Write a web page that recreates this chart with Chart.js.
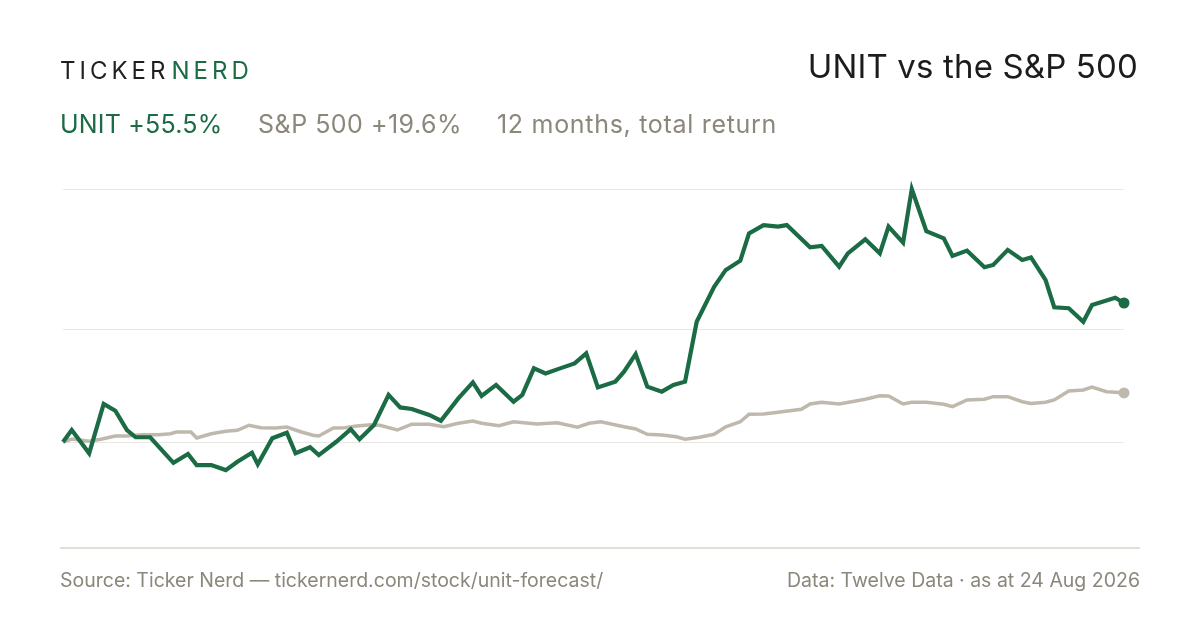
<!DOCTYPE html>
<html>
<head>
<meta charset="utf-8">
<script src="https://cdn.jsdelivr.net/npm/chart.js@4.4.1/dist/chart.umd.min.js"></script>
<style>
    html, body { margin: 0; padding: 0; background: #ffffff; }
    body { width: 1200px; height: 630px; position: relative; overflow: hidden; font-family: "Inter", "Noto Sans", sans-serif; }
    #chartWrap { position: absolute; left: 0; top: 0; width: 1200px; height: 630px; }
    .brand { position: absolute; left: 60px; top: 56px; font-size: 24px; letter-spacing: 4px; color: #1f1f1f; line-height: 30px; }
    .brand span { color: #1b6b45; margin-left: 2px; }
    .title { position: absolute; right: 62px; top: 46px; font-size: 33px; letter-spacing: 0.15px; color: #1c1c1c; line-height: 40px; }
    .sub { position: absolute; top: 108px; font-size: 25px; line-height: 32px; color: #8c877b; white-space: nowrap; }
    .sub.unit { left: 60px; color: #1b6b45; letter-spacing: 0.2px; }
    .sub.spx { left: 258px; letter-spacing: 0.5px; }
    .sub.period { left: 497px; letter-spacing: 0.7px; }
    .rule { position: absolute; left: 60px; top: 547px; width: 1080px; height: 2px; background: #e2dfd6; }
    .foot { position: absolute; top: 568px; font-size: 19.5px; line-height: 24px; color: #8c877b; white-space: nowrap; }
    .foot.left { left: 60px; }
    .foot.right { right: 60px; }
</style>
</head>
<body>
<div id="chartWrap"><canvas id="returnChart"></canvas></div>
<div class="brand">TICKER<span>NERD</span></div>
<div class="title">UNIT vs the S&amp;P 500</div>
<div class="sub unit">UNIT +55.5%</div>
<div class="sub spx">S&amp;P 500 +19.6%</div>
<div class="sub period">12 months, total return</div>
<div class="rule"></div>
<div class="foot left">Source: Ticker Nerd — tickernerd.com/stock/unit-forecast/</div>
<div class="foot right">Data: Twelve Data · as at 24 Aug 2026</div>

<script>
// days since 24 Aug 2025, total return in %
var unitDays = [0, 3, 9, 14, 18, 22, 25, 30, 38, 43, 46, 51, 56, 60, 65, 67, 72, 77, 80, 85, 88, 94, 99, 102, 107, 112, 116, 120, 126, 130,
    136, 141, 144, 149, 155, 158, 162, 166, 171, 176, 180, 184, 190, 193, 197, 201, 206, 210, 214, 218, 224, 228, 233, 236, 241, 246, 249,
    257, 261, 267, 270, 276, 281, 284, 289, 292, 297, 303, 306, 311, 317, 320, 325, 330, 333, 338, 341, 346, 351, 354, 362, 365];
var unitReturn = [0, 4.8, -4.5, 15.2, 12.5, 4.8, 1.9, 1.9, -8.3, -4.8, -9.2, -9.2, -11.2, -7.9, -4.3, -8.9, 1.5, 3.7, -4.5, -2.1, -5.2, 0.1, 5.1, 1.1, 6.8, 18.8, 13.8, 13.2, 10.8, 8.5,
    17.4, 23.8, 18.4, 22.8, 16.1, 18.8, 29.4, 27.4, 29.4, 31.4, 35.4, 21.8, 24.1, 28.1, 35.1, 22.1, 20.1, 22.8, 24.1, 48.0, 62.0, 68.7, 72.4, 83.3, 86.6, 86.0, 86.6,
    77.7, 78.3, 70.0, 75.3, 80.9, 75.3, 86.0, 79.6, 101.0, 84.2, 81.3, 74.3, 76.4, 69.8, 70.7, 76.7, 72.7, 73.7, 64.7, 53.8, 53.4, 48.0, 54.7, 57.6, 55.5];

var spxDays = [0, 3, 9, 13, 18, 22, 27, 33, 37, 39, 44, 46, 51, 56, 60, 64, 68, 73, 77, 82, 86, 88, 93, 97, 101, 106, 109, 115, 120, 126,
    131, 136, 141, 144, 150, 155, 163, 170, 177, 181, 185, 193, 197, 201, 206, 211, 214, 219, 224, 228, 233, 236, 241, 246, 254, 257, 261,
    267, 276, 281, 284, 289, 292, 297, 303, 306, 311, 317, 320, 325, 330, 333, 338, 341, 346, 351, 354, 359, 362, 365];
var spxReturn = [0, 1.2, 0.3, 1.1, 2.4, 2.4, 2.9, 2.9, 3.3, 4.0, 4.0, 1.6, 3.3, 4.3, 4.7, 6.7, 5.7, 5.6, 6.0, 4.0, 2.7, 2.4, 5.6, 5.7, 6.4, 6.9, 6.7, 4.8, 7.1, 7.1,
    6.1, 7.5, 8.4, 7.5, 6.5, 8.1, 7.2, 7.7, 5.9, 7.5, 8.1, 6.1, 5.2, 3.1, 2.8, 2.1, 1.1, 1.9, 3.1, 6.1, 8.1, 11.1, 11.2, 11.9, 13.1, 15.2, 15.9,
    15.2, 17.1, 18.5, 18.4, 15.2, 15.9, 15.9, 15.1, 14.1, 16.8, 17.1, 18.1, 18.1, 16.1, 15.4, 15.9, 16.8, 20.4, 20.8, 21.9, 20.1, 19.9, 19.6];

var yFloor = -42.3;

var green = '#1b6b45';
var sand = '#bfb8ad';

function toPoints(days, values) {
    return days.map(function (d, i) { return { x: d, y: values[i] }; });
}

function lastDot(size) {
    return function (ctx) {
        return ctx.dataIndex === ctx.dataset.data.length - 1 ? size : 0;
    };
}

var unitMax = Math.max.apply(null, unitReturn);
var unitMin = Math.min.apply(null, unitReturn);

var ctx = document.getElementById('returnChart').getContext('2d');
var returnChart = new Chart(ctx, {
    type: 'line',
    data: {
        datasets: [{
            label: 'UNIT',
            data: toPoints(unitDays, unitReturn),
            borderColor: green,
            backgroundColor: green,
            borderWidth: 4.2,
            pointRadius: lastDot(5.5),
            pointHoverRadius: 0,
            pointBorderWidth: 0,
            tension: 0,
            clip: false,
            order: 0
        }, {
            label: 'S&P 500',
            data: toPoints(spxDays, spxReturn),
            borderColor: sand,
            backgroundColor: sand,
            borderWidth: 3.5,
            pointRadius: lastDot(5.5),
            pointHoverRadius: 0,
            pointBorderWidth: 0,
            tension: 0,
            clip: false,
            order: 1
        }]
    },
    options: {
        responsive: true,
        maintainAspectRatio: false,
        animation: false,
        layout: { padding: { left: 63, right: 76, top: 189, bottom: 82 } },
        plugins: { legend: { display: false }, tooltip: { enabled: false } },
        scales: {
            x: { type: 'linear', min: 0, max: 365, display: false },
            y: {
                min: yFloor,
                max: unitMax,
                afterBuildTicks: function (scale) {
                    scale.ticks = [{ value: 0 }, { value: (unitMin + unitMax) / 2 }, { value: unitMax }];
                },
                ticks: { display: false },
                border: { display: false },
                grid: { color: '#e9e7e1', lineWidth: 1, drawTicks: false }
            }
        }
    }
});
</script>
</body>
</html>
